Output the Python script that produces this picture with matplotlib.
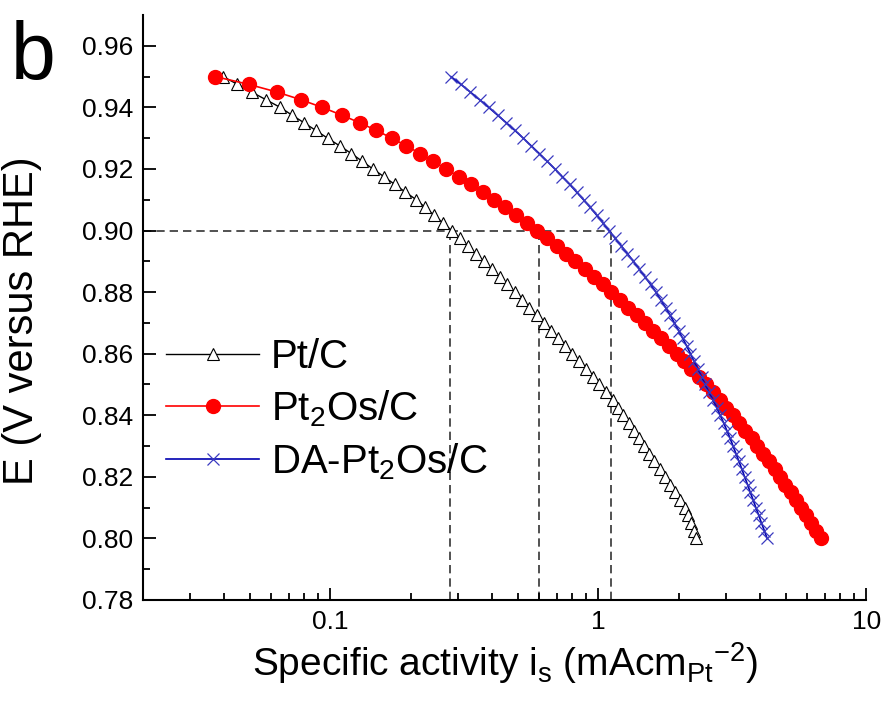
import matplotlib
matplotlib.use('Agg')
import matplotlib.pyplot as plt

plt.rcParams['font.family'] = ['Liberation Sans', 'DejaVu Sans']
plt.rcParams['mathtext.default'] = 'regular'

# potential grid shared by the three polarisation curves (V vs RHE)
potential = [0.9500, 0.9475, 0.9450, 0.9425, 0.9400, 0.9375, 0.9350, 0.9325, 0.9300, 0.9275,
             0.9250, 0.9225, 0.9200, 0.9175, 0.9150, 0.9125, 0.9100, 0.9075, 0.9050, 0.9025,
             0.9000, 0.8975, 0.8950, 0.8925, 0.8900, 0.8875, 0.8850, 0.8825, 0.8800, 0.8775,
             0.8750, 0.8725, 0.8700, 0.8675, 0.8650, 0.8625, 0.8600, 0.8575, 0.8550, 0.8525,
             0.8500, 0.8475, 0.8450, 0.8425, 0.8400, 0.8375, 0.8350, 0.8325, 0.8300, 0.8275,
             0.8250, 0.8225, 0.8200, 0.8175, 0.8150, 0.8125, 0.8100, 0.8075, 0.8050, 0.8025,
             0.8000]

# specific activity, mA cm-2 (Pt)
pt_c = [0.0398, 0.0450, 0.0508, 0.0575, 0.0650, 0.0719, 0.0798, 0.0883, 0.0977, 0.1084,
        0.1199, 0.1315, 0.1442, 0.1585, 0.1738, 0.1905, 0.2094, 0.2259, 0.2438, 0.2630,
        0.2838, 0.3041, 0.3258, 0.3491, 0.3741, 0.4009, 0.4295, 0.4581, 0.4875, 0.5200,
        0.5534, 0.5902, 0.6266, 0.6668, 0.7079, 0.7534, 0.7998, 0.8472, 0.8995, 0.9528,
        1.009, 1.072, 1.135, 1.186, 1.242, 1.297, 1.355, 1.416, 1.483, 1.549,
        1.618, 1.694, 1.770, 1.849, 1.932, 2.018, 2.104, 2.168, 2.223, 2.270,
        2.307]

pt2os_c = [0.0372, 0.0495, 0.0631, 0.0776, 0.0933, 0.1102, 0.1288, 0.1486, 0.1698, 0.1923,
           0.2163, 0.2421, 0.2704, 0.3013, 0.3342, 0.3698, 0.4083, 0.4498, 0.4932, 0.5408,
           0.5902, 0.6427, 0.6998, 0.7586, 0.8222, 0.8892, 0.9616, 1.038, 1.114, 1.202,
           1.294, 1.390, 1.493, 1.600, 1.714, 1.832, 1.959, 2.089, 2.228, 2.371,
           2.523, 2.679, 2.838, 3.006, 3.177, 3.357, 3.540, 3.733, 3.926, 4.130,
           4.335, 4.550, 4.764, 4.989, 5.224, 5.470, 5.715, 5.970, 6.237, 6.516,
           6.792]

da_pt2os_c = [0.2818, 0.3069, 0.3327, 0.3606, 0.3899, 0.4207, 0.4539, 0.4887, 0.5248, 0.5623,
              0.6026, 0.6442, 0.6887, 0.7345, 0.7816, 0.8299, 0.8810, 0.9333, 0.9863, 1.040,
              1.096, 1.156, 1.219, 1.285, 1.352, 1.422, 1.493, 1.567, 1.641, 1.710,
              1.782, 1.854, 1.923, 1.995, 2.065, 2.138, 2.208, 2.280, 2.355, 2.432,
              2.506, 2.588, 2.679, 2.767, 2.851, 2.938, 3.020, 3.105, 3.184, 3.266,
              3.350, 3.436, 3.516, 3.606, 3.690, 3.784, 3.873, 3.972, 4.064, 4.169,
              4.266]

# activities read at 0.90 V
e_ref = 0.90
act_at_ref = [0.28, 0.60, 1.12]

fig = plt.figure(figsize=(8.83, 7.02), dpi=100)
ax = fig.add_axes([0.162, 0.1453, 0.819, 0.8333])

ax.plot(pt_c, potential, color='black', lw=1.0, marker='^', ms=8,
        mfc='white', mec='black', mew=0.8, label='Pt/C')
ax.plot(pt2os_c, potential, color='#ff0000', lw=1.2, marker='o', ms=10,
        mfc='#ff0000', mec='#ff0000', label='Pt$_2$Os/C')
ax.plot(da_pt2os_c, potential, color='#0000b0', lw=1.2, marker='x', ms=9,
        mec='#3a3ac0', mew=0.9, label='DA-Pt$_2$Os/C')

# guide lines at 0.90 V
dash = (0, (5, 3))
ax.plot([0.02, max(act_at_ref)], [e_ref, e_ref], color='#333333', lw=1.2, ls=dash, zorder=0)
for xv in act_at_ref:
    ax.plot([xv, xv], [0.78, e_ref], color='#333333', lw=1.2, ls=dash, zorder=0)

ax.set_xscale('log')
ax.set_xlim(0.02, 10)
ax.set_ylim(0.78, 0.97)
ax.set_xticks([0.1, 1, 10], labels=['0.1', '1', '10'])
ax.set_yticks([0.78, 0.80, 0.82, 0.84, 0.86, 0.88, 0.90, 0.92, 0.94, 0.96])
ax.set_yticks([0.79, 0.81, 0.83, 0.85, 0.87, 0.89, 0.91, 0.93, 0.95], minor=True)

for side in ['top', 'right']:
    ax.spines[side].set_visible(False)
for side in ['left', 'bottom']:
    ax.spines[side].set_linewidth(1.5)

ax.tick_params(which='both', direction='in', width=1.3, labelsize=19)
ax.tick_params(which='major', length=9, pad=7)
ax.tick_params(which='minor', length=5)
ax.tick_params(axis='x', which='minor', labelbottom=False)

ax.set_xlabel('Specific activity i$_s$ (mAcm$_{Pt}{}^{-2}$)', fontsize=28, labelpad=5)
ax.set_ylabel('E (V versus RHE)', fontsize=30)
ax.yaxis.set_label_coords(-0.14, 0.477)

ax.legend(loc='upper left', bbox_to_anchor=(0.01, 0.475), frameon=False, fontsize=29,
          handlelength=2.3, handletextpad=0.3, labelspacing=0.3, borderaxespad=0)

fig.text(0.012, 0.888, 'b', fontsize=58)

fig.savefig('out.png', dpi=100)
